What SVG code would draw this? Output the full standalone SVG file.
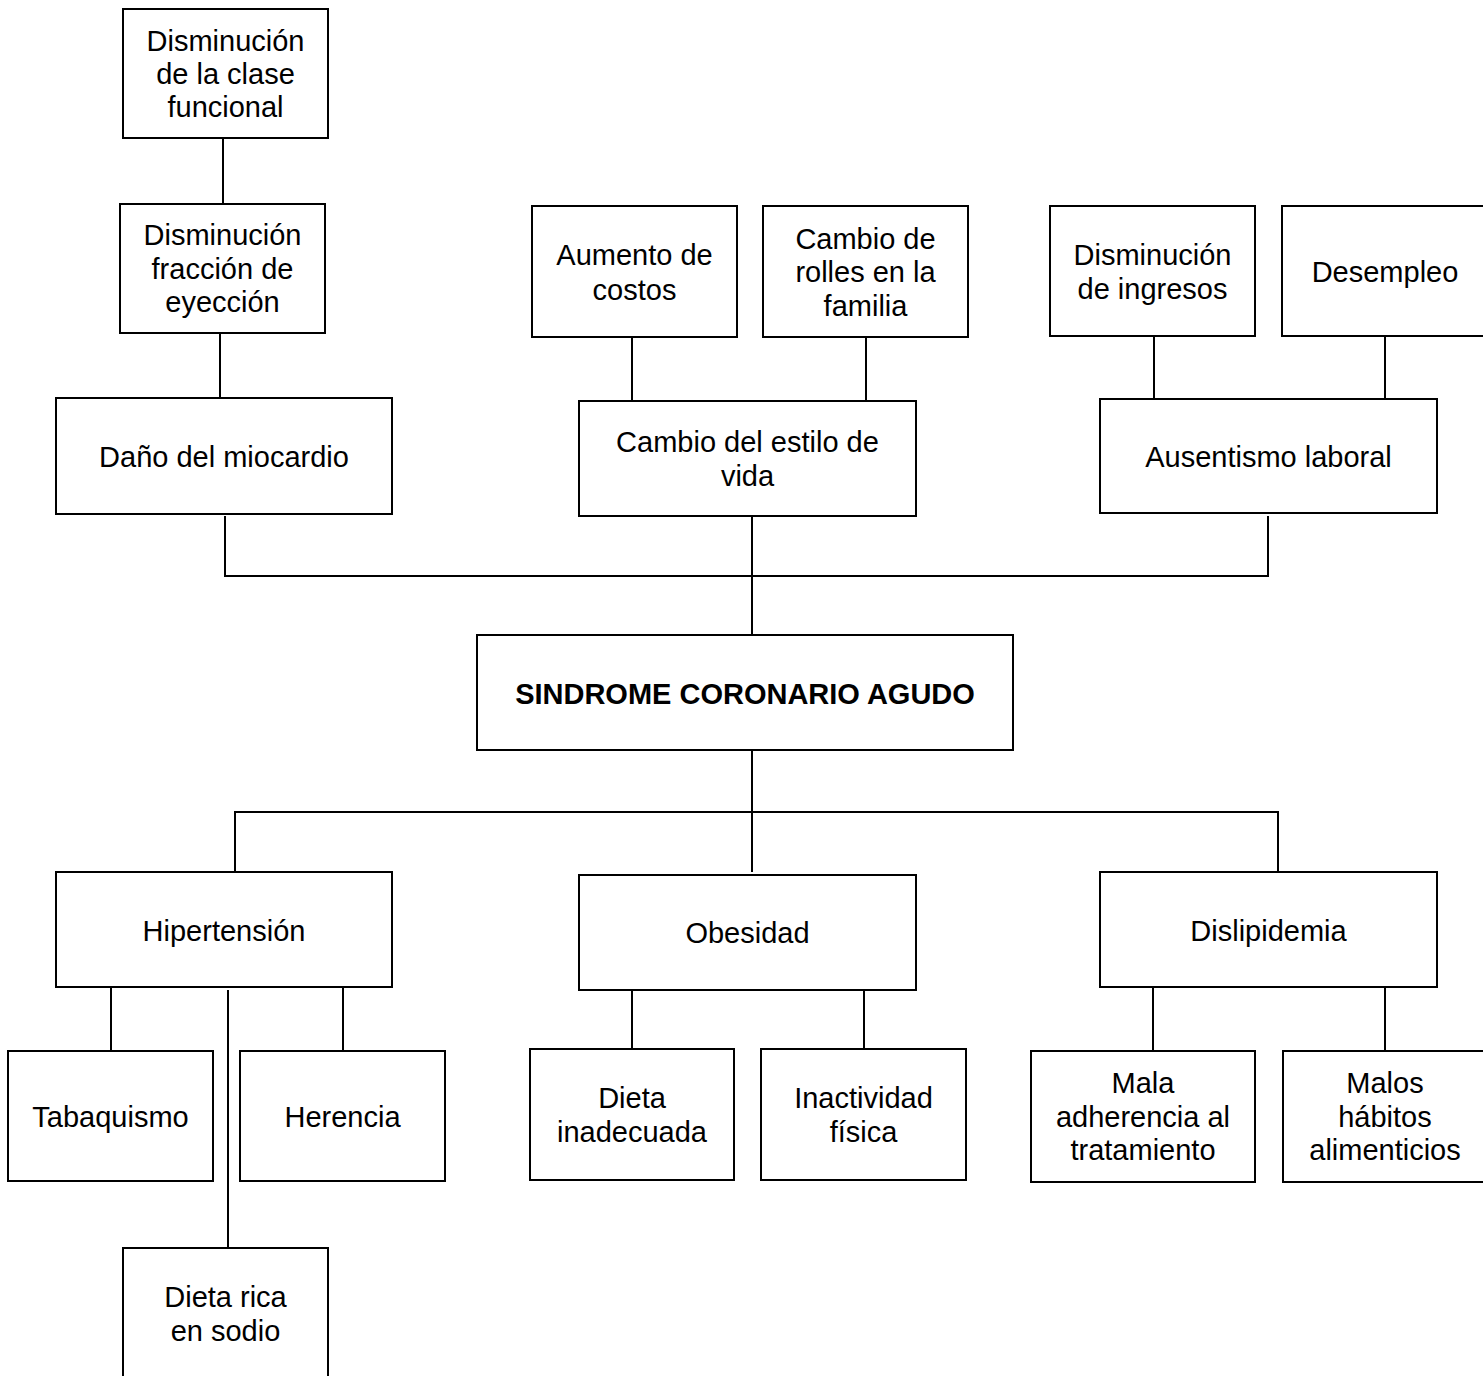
<svg xmlns="http://www.w3.org/2000/svg" width="1483" height="1376" viewBox="0 0 1483 1376">
<style>
.box{fill:#fff;stroke:#000;stroke-width:2}
.t{font-family:"Liberation Sans",Arial,sans-serif;font-size:29px;fill:#000;text-anchor:middle}
.b{font-weight:bold}
.c{stroke:#000;stroke-width:2;fill:none}
</style>
<rect width="1483" height="1376" fill="#fff"/>
<g id="connectors">
<line class="c" x1="223" y1="139" x2="223" y2="204"/>
<line class="c" x1="220" y1="334" x2="220" y2="398"/>
<line class="c" x1="632" y1="338" x2="632" y2="401"/>
<line class="c" x1="866" y1="338" x2="866" y2="401"/>
<line class="c" x1="1154" y1="337" x2="1154" y2="399"/>
<line class="c" x1="1385" y1="337" x2="1385" y2="399"/>
<polyline class="c" points="225,516 225,576 1268,576 1268,516"/>
<line class="c" x1="752" y1="517" x2="752" y2="635"/>
<line class="c" x1="752" y1="751" x2="752" y2="872"/>
<polyline class="c" points="235,872 235,812 1278,812 1278,872"/>
<line class="c" x1="111" y1="988" x2="111" y2="1051"/>
<line class="c" x1="228" y1="990" x2="228" y2="1248"/>
<line class="c" x1="343" y1="988" x2="343" y2="1051"/>
<line class="c" x1="632" y1="991" x2="632" y2="1049"/>
<line class="c" x1="864" y1="991" x2="864" y2="1049"/>
<line class="c" x1="1153" y1="988" x2="1153" y2="1051"/>
<line class="c" x1="1385" y1="988" x2="1385" y2="1051"/>
</g>
<g id="n1"><rect class="box" x="123" y="9" width="205" height="129"/><text class="t" x="225.5" y="51">Disminución</text><text class="t" x="225.5" y="84">de la clase</text><text class="t" x="225.5" y="117">funcional</text></g>
<g id="n2"><rect class="box" x="120" y="204" width="205" height="129"/><text class="t" x="222.5" y="245">Disminución</text><text class="t" x="222.5" y="279">fracción de</text><text class="t" x="222.5" y="312">eyección</text></g>
<g id="n3"><rect class="box" x="56" y="398" width="336" height="116"/><text class="t" x="224" y="467">Daño del miocardio</text></g>
<g id="n4"><rect class="box" x="532" y="206" width="205" height="131"/><text class="t" x="634.5" y="265">Aumento de</text><text class="t" x="634.5" y="300">costos</text></g>
<g id="n5"><rect class="box" x="763" y="206" width="205" height="131"/><text class="t" x="865.5" y="249">Cambio de</text><text class="t" x="865.5" y="282">rolles en la</text><text class="t" x="865.5" y="316">familia</text></g>
<g id="n6"><rect class="box" x="1050" y="206" width="205" height="130"/><text class="t" x="1152.5" y="265">Disminución</text><text class="t" x="1152.5" y="299">de ingresos</text></g>
<g id="n7"><rect class="box" x="1282" y="206" width="206" height="130"/><text class="t" x="1385" y="282">Desempleo</text></g>
<g id="n8"><rect class="box" x="579" y="401" width="337" height="115"/><text class="t" x="747.5" y="452">Cambio del estilo de</text><text class="t" x="747.5" y="486">vida</text></g>
<g id="n9"><rect class="box" x="1100" y="399" width="337" height="114"/><text class="t" x="1268.5" y="467">Ausentismo laboral</text></g>
<g id="n10"><rect class="box" x="477" y="635" width="536" height="115"/><text class="t b" x="745" y="704">SINDROME CORONARIO AGUDO</text></g>
<g id="n11"><rect class="box" x="56" y="872" width="336" height="115"/><text class="t" x="224" y="941">Hipertensión</text></g>
<g id="n12"><rect class="box" x="579" y="875" width="337" height="115"/><text class="t" x="747.5" y="943">Obesidad</text></g>
<g id="n13"><rect class="box" x="1100" y="872" width="337" height="115"/><text class="t" x="1268.5" y="941">Dislipidemia</text></g>
<g id="n14"><rect class="box" x="8" y="1051" width="205" height="130"/><text class="t" x="110.5" y="1127">Tabaquismo</text></g>
<g id="n15"><rect class="box" x="240" y="1051" width="205" height="130"/><text class="t" x="342.5" y="1127">Herencia</text></g>
<g id="n16"><rect class="box" x="530" y="1049" width="204" height="131"/><text class="t" x="632" y="1108">Dieta</text><text class="t" x="632" y="1142">inadecuada</text></g>
<g id="n17"><rect class="box" x="761" y="1049" width="205" height="131"/><text class="t" x="863.5" y="1108">Inactividad</text><text class="t" x="863.5" y="1142">física</text></g>
<g id="n18"><rect class="box" x="1031" y="1051" width="224" height="131"/><text class="t" x="1143" y="1093">Mala</text><text class="t" x="1143" y="1127">adherencia al</text><text class="t" x="1143" y="1160">tratamiento</text></g>
<g id="n19"><rect class="box" x="1283" y="1051" width="205" height="131"/><text class="t" x="1385" y="1093">Malos</text><text class="t" x="1385" y="1127">hábitos</text><text class="t" x="1385" y="1160">alimenticios</text></g>
<g id="n20"><rect class="box" x="123" y="1248" width="205" height="140"/><text class="t" x="225.5" y="1307">Dieta rica</text><text class="t" x="225.5" y="1341">en sodio</text></g>
</svg>
